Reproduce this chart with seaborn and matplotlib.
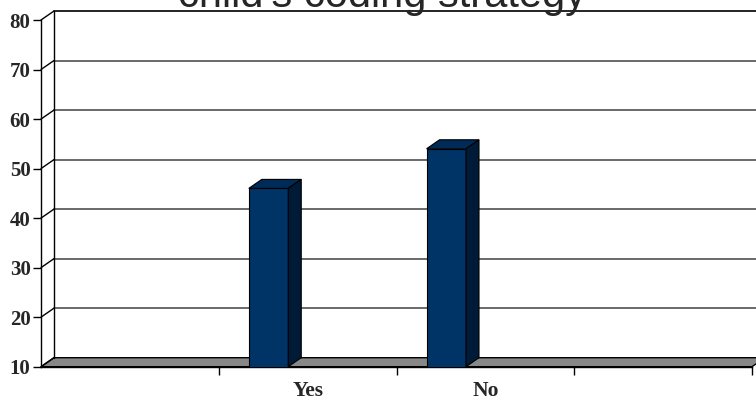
import matplotlib
matplotlib.use("Agg")
import matplotlib.pyplot as plt
from matplotlib.patches import Polygon
import seaborn as sns
import pandas as pd

# ---- data ----
categories = ["Yes", "No"]
values = [46, 54]
slot_order = [" ", "Yes", "No", "  "]
y_ticks = [10, 20, 30, 40, 50, 60, 70, 80]
title = "child's coding strategy"

sns.set_style("white")
plt.rcParams["font.family"] = ["Liberation Serif", "DejaVu Serif"]

W, H = 756, 400
fig = plt.figure(figsize=(W / 100, H / 100), dpi=100)
ax = fig.add_axes([41 / W, (H - 366.7) / H, (752 - 41) / W, 346.7 / H])

df = pd.DataFrame({"cat": categories, "val": values})
sns.barplot(data=df, x="cat", y="val", order=slot_order, color="#003366",
            width=0.222, saturation=1, edgecolor="black", linewidth=0.8,
            ax=ax, zorder=5)

ax.set_xlim(-0.5, 3.5)
ax.set_ylim(10, 80)
ax.set_xlabel("")
ax.set_ylabel("")

# shift bars towards the left part of each slot (as in the original)
shift = 0.22
for p in ax.patches:
    p.set_x(p.get_x() - shift)
    p.set_clip_on(True)

DX, DY = 13, 9  # depth offset in pixels (right, up)
inv = ax.transData.inverted()


def back(x, y):
    d = ax.transData.transform((x, y))
    return tuple(inv.transform((d[0] + DX, d[1] + DY)))


x0, x1 = ax.get_xlim()
y0, y1 = ax.get_ylim()

bar_patches = list(ax.patches)

# floor
floor = Polygon([(x0, y0), (x1, y0), back(x1, y0), back(x0, y0)], closed=True,
                facecolor="#888888", edgecolor="black", linewidth=1.0,
                clip_on=False, zorder=2)
ax.add_patch(floor)

# back wall gridlines and side wall diagonals
for v in y_ticks[1:]:
    bx0, by = back(x0, v)
    bx1, _ = back(x1 + 0.2, v)
    col = "black" if v == y_ticks[-1] else "#505050"
    ax.plot([bx0, bx1], [by, by], color=col, lw=1.2, clip_on=False, zorder=1)
for v in y_ticks:
    bx, by = back(x0, v)
    ax.plot([x0, bx], [v, by], color="black", lw=1.0, clip_on=False, zorder=3)
# back wall left edge
bxa, bya = back(x0, y0)
bxb, byb = back(x0, y1)
ax.plot([bxa, bxb], [bya, byb], color="black", lw=1.0, clip_on=False, zorder=3)

# 3D faces of bars
for p in bar_patches:
    h = p.get_height()
    if h == 0 or pd.isna(h):
        continue
    left = p.get_x()
    right = left + p.get_width()
    top = p.get_y() + h
    bot = max(p.get_y(), y0)
    top_face = Polygon([(left, top), (right, top), back(right, top), back(left, top)],
                       closed=True, facecolor="#002a57", edgecolor="black",
                       linewidth=0.8, clip_on=False, zorder=6)
    side_face = Polygon([(right, bot), (right, top), back(right, top), back(right, bot)],
                        closed=True, facecolor="#001b38", edgecolor="black",
                        linewidth=0.8, clip_on=False, zorder=6)
    ax.add_patch(top_face)
    ax.add_patch(side_face)

# spines
for s in ["top", "right"]:
    ax.spines[s].set_visible(False)
for s in ["left", "bottom"]:
    ax.spines[s].set_color("black")
    ax.spines[s].set_linewidth(1.0)
    ax.spines[s].set_zorder(4)

# ticks
ax.set_yticks(y_ticks)
ax.set_yticklabels([str(t) for t in y_ticks], fontsize=15, fontweight="bold")
ax.tick_params(axis="y", length=6, width=1, color="black", pad=1.5, left=True)

ax.set_xticks([0.5, 1.5, 2.5, 3.5])
ax.set_xticklabels([])
ax.tick_params(axis="x", which="major", length=6, width=1, color="black", bottom=True)
ax.set_xticks([0, 1, 2, 3], minor=True)
ax.set_xticklabels(slot_order, minor=True, fontsize=15.5, fontweight="bold")
ax.tick_params(axis="x", which="minor", length=0, pad=10)

# title (partly cut off at the top as in the original)
fig.text(382.5 / W, 1 - 6.5 / H, title, ha="center", va="baseline",
         fontsize=30, family=["Liberation Sans", "DejaVu Sans"])

fig.savefig("out.png", dpi=100)
